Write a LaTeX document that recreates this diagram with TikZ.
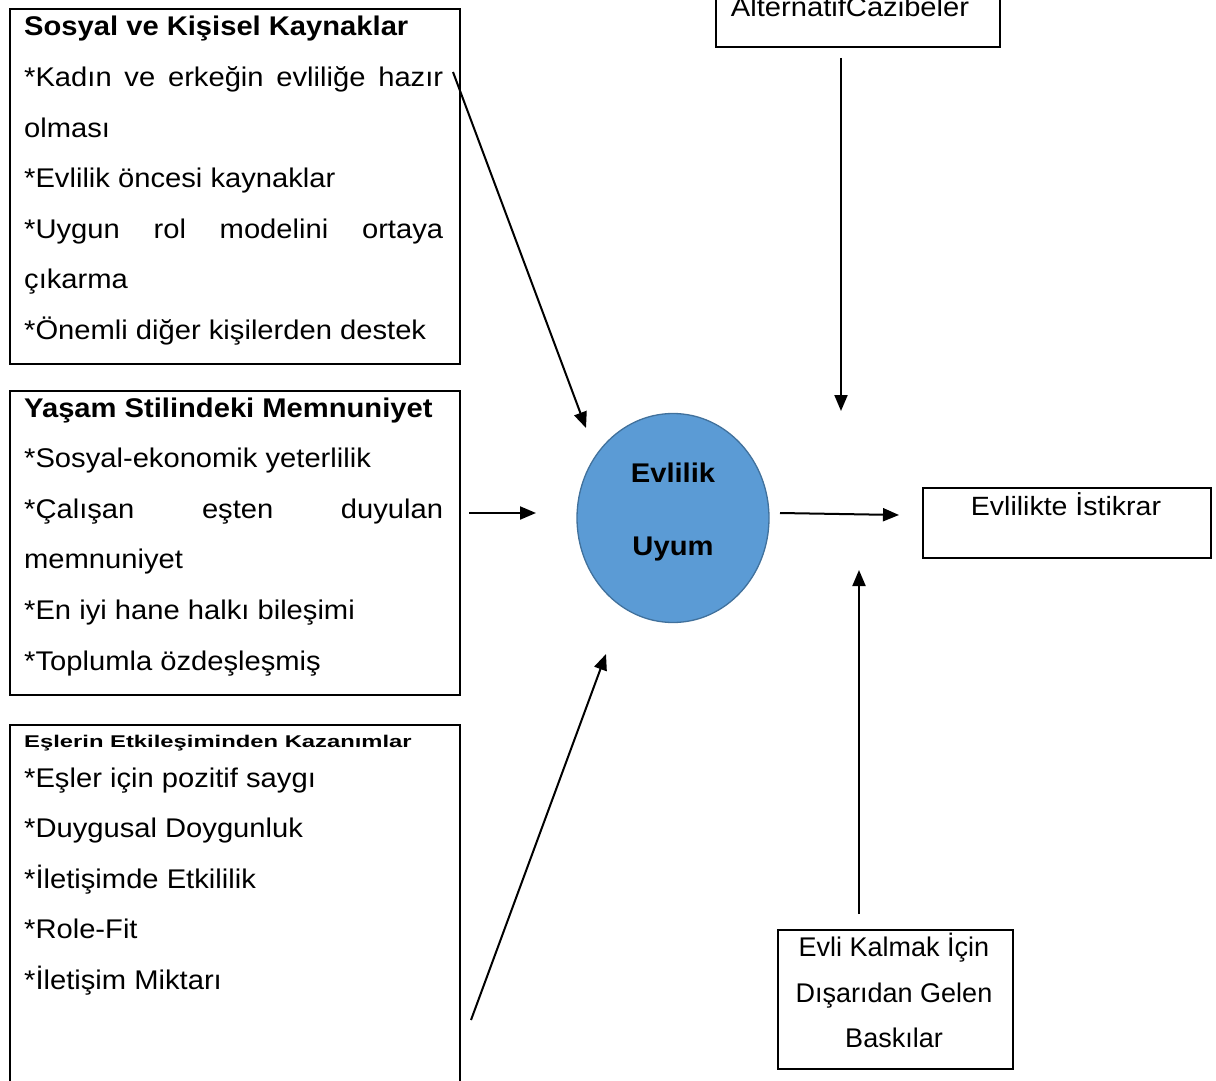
\documentclass[tikz,border=0pt]{standalone}
\usepackage{fontspec}
\setmainfont{Liberation Sans}[FakeStretch=1.08]
\newfontfamily\plainfont{Liberation Sans}
\newfontfamily\hdfont{Liberation Sans}[FakeStretch=1.4]
\usetikzlibrary{arrows.meta,shapes.geometric}
\definecolor{uyumfill}{HTML}{5B9BD5}
\definecolor{uyumdraw}{HTML}{41719C}
\begin{document}
\begin{tikzpicture}[x=1pt,y=-1pt,
  box/.style={draw=black, line width=1.8pt, rectangle, inner sep=0pt, anchor=north west},
  txt/.style={inner sep=0pt, anchor=base west, font=\fontsize{27}{50.6}\selectfont},
  ctxt/.style={inner sep=0pt, anchor=base, font=\fontsize{27}{50.6}\selectfont},
  arr/.style={line width=2pt, -{Triangle[length=16pt,width=13pt]}}]
\useasboundingbox (0,0) rectangle (1216,1081);
\clip (0,0) rectangle (1216,1081);

% boxes
\node[box, minimum width=450pt, minimum height=355pt] (b1) at (9,8) {};
\node[box, minimum width=450pt, minimum height=304pt] (b2) at (9,390) {};
\node[box, minimum width=450pt, minimum height=380pt] (b3) at (9,724) {};
\node[box, minimum width=284pt, minimum height=56pt] (alt) at (715,-10) {};
\node[box, minimum width=288pt, minimum height=70pt] (ist) at (922,487) {};
\node[box, minimum width=235pt, minimum height=139pt] (bask) at (777,929) {};
\node[ellipse, draw=uyumdraw, fill=uyumfill, line width=1.3pt, minimum width=192pt, minimum height=209pt, inner sep=0pt] (uyum) at (673,518) {};

% box 1 text
\node[txt] (t1) at (24,36) {\parbox[t]{419pt}{%
{\bfseries Sosyal ve Kişisel Kaynaklar}\\{}%
\makebox[419pt][s]{*Kadın ve erkeğin evliliğe hazır}\\{}%
olması\\{}%
*Evlilik öncesi kaynaklar\\{}%
\makebox[419pt][s]{*Uygun rol modelini ortaya}\\{}%
çıkarma\\{}%
*Önemli diğer kişilerden destek}};

% box 2 text
\node[txt] (t2) at (24,417) {\parbox[t]{419pt}{%
{\bfseries Yaşam Stilindeki Memnuniyet}\\{}%
*Sosyal-ekonomik yeterlilik\\{}%
\makebox[419pt][s]{*Çalışan eşten duyulan}\\{}%
memnuniyet\\{}%
*En iyi hane halkı bileşimi\\{}%
*Toplumla özdeşleşmiş}};

% box 3 text
\node[inner sep=0pt, anchor=base west, font=\hdfont\bfseries\fontsize{17}{20}\selectfont] (t3h) at (24,747) {Eşlerin Etkileşiminden Kazanımlar};
\node[txt] (t3) at (24,787) {\parbox[t]{419pt}{%
*Eşler için pozitif saygı\\{}%
*Duygusal Doygunluk\\{}%
*İletişimde Etkililik\\{}%
*Role-Fit\\{}%
*İletişim Miktarı}};

% other texts
\node[ctxt] (altt) at (850,17) {AlternatifCazibeler};
\node[ctxt, font=\fontsize{26.4}{30}\selectfont] (istt) at (1066,515) {Evlilikte İstikrar};
\node[ctxt, font=\plainfont\fontsize{27}{46}\selectfont] (bask1) at (894,956) {Evli Kalmak İçin};
\node[ctxt, font=\plainfont\fontsize{27}{46}\selectfont] (bask2) at (894,1002) {Dışarıdan Gelen};
\node[ctxt, font=\plainfont\fontsize{27}{46}\selectfont] (bask3) at (894,1047) {Baskılar};
\node[ctxt, font=\bfseries\fontsize{27}{30}\selectfont] (ev) at (673,482) {Evlilik};
\node[ctxt, font=\bfseries\fontsize{27}{30}\selectfont] (uy) at (673,555) {Uyum};

% arrow end points
\coordinate (a1s) at (453,72);  \coordinate (a1e) at (586,428);
\coordinate (a2s) at (841,58);  \coordinate (a2e) at (841,411);
\coordinate (a3s) at (469,513); \coordinate (a3e) at (536,513);
\coordinate (a4s) at (780,513); \coordinate (a4e) at (899,515);
\coordinate (a5s) at (471,1020);\coordinate (a5e) at (606,654);
\coordinate (a6s) at (859,914); \coordinate (a6e) at (859,570);

\draw[arr] (a1s) -- (a1e);
\draw[arr] (a2s) -- (a2e);
\draw[arr] (a3s) -- (a3e);
\draw[arr] (a4s) -- (a4e);
\draw[arr] (a5s) -- (a5e);
\draw[arr] (a6s) -- (a6e);
\end{tikzpicture}
\end{document}
